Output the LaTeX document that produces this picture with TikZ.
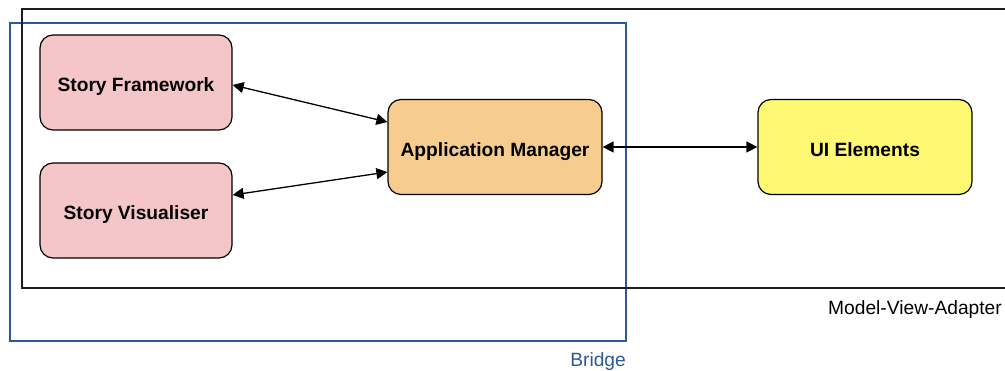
\documentclass[tikz,border=0pt]{standalone}
\usepackage{fontspec}
\setmainfont{Liberation Sans}
\usetikzlibrary{arrows.meta}
\definecolor{pinkfill}{HTML}{F4C6C7}
\definecolor{orangefill}{HTML}{F7CC8F}
\definecolor{yellowfill}{HTML}{FFF872}
\definecolor{bridgeblue}{HTML}{2B5A97}
\definecolor{frameblack}{HTML}{1E1E1E}
\tikzset{
  box/.style={draw=black, line width=1.2pt, rounded corners=13pt, minimum width=192pt, minimum height=95pt, inner sep=0pt, text height=19pt, text depth=0pt, font=\fontsize{19.2}{23}\selectfont\bfseries, text=black},
  wide/.style={box, minimum width=214pt},
  link/.style={line width=1.3pt, {Triangle[length=11pt,width=11pt]}-{Triangle[length=11pt,width=11pt]}},
  lbl/.style={font=\fontsize{19.2}{23}\selectfont, inner sep=0pt}
}
\begin{document}
\begin{tikzpicture}[x=1pt,y=-1pt]
\useasboundingbox (0,0) rectangle (1005,371);
% Bridge frame
\draw[bridgeblue, line width=1.2pt] (10,23) rectangle (626,341);
\node[lbl, text=bridgeblue, anchor=east] (bridgelbl) at (626,361.5) {Bridge};
% Model-View-Adapter frame
\draw[frameblack, line width=1.4pt] (1006,9) -- (22,9) -- (22,288) -- (1006,288);
\node[lbl, anchor=east] (mvalbl) at (1002,309.5) {Model-View-Adapter};
% nodes
\node[box, fill=pinkfill] (sf) at (136,82.5) {Story Framework};
\node[box, fill=pinkfill] (sv) at (136,210.5) {Story Visualiser};
\node[wide, fill=orangefill] (am) at (495,147) {Application Manager};
\node[wide, fill=yellowfill] (ui) at (865,147) {UI Elements};
% connectors
\draw[link] ([yshift=-2.5pt]sf.east) -- ([yshift=25pt]am.west);
\draw[link] ([yshift=15.5pt]sv.east) -- ([yshift=-25pt]am.west);
\draw[link] (am.east) -- (ui.west);
\end{tikzpicture}
\end{document}
